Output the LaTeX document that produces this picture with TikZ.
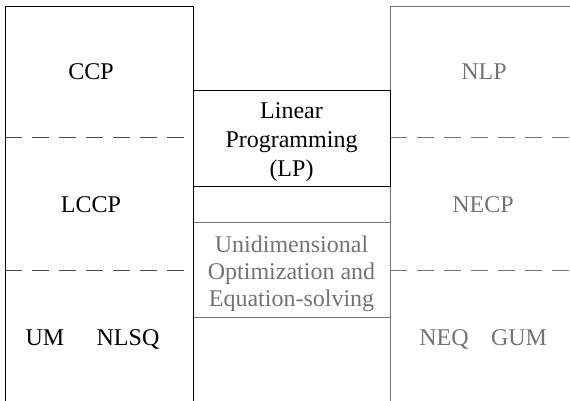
\documentclass[tikz,border=0pt]{standalone}
\usepackage{fontspec}
\setmainfont{Liberation Serif}
\usepackage{xcolor}
\usetikzlibrary{positioning}
\definecolor{nlgray}{RGB}{115,115,115}
\tikzset{
    lbl/.style = {font=\fontsize{24}{28.5}\selectfont, inner sep=0pt, anchor=base},
    lin/.style = {lbl, black},
    nonlin/.style = {lbl, nlgray},
    sep/.style = {dash pattern=on 17pt off 10pt},
    midbox/.style = {rectangle, draw, minimum width=197pt, minimum height=95pt, inner sep=0pt},
    midtext/.style = {align=center, inner sep=0pt}
}

\begin{document}
\begin{tikzpicture}[x=1pt, y=-1pt, line width=1pt]
    \useasboundingbox (0,0) rectangle (570,401);

    % nonlinear column
    \coordinate (nl_bl) at (390,401);
    \coordinate (nl_tl) at (390,7);
    \coordinate (nl_tr) at (570,7);
    \draw [nlgray] (nl_bl) -- (nl_tl) -- (nl_tr);
    \draw [nlgray, sep] (390,138) -- (570,138);
    \draw [nlgray, sep] (390,270) -- (570,270);

    % middle column
    \node [midbox, draw=black] (lp) at (291.5,138.5) {};
    \node [midtext, font=\fontsize{24}{29}\selectfont] (lp_txt) at ([yshift=-4pt]lp.center)
        {Linear\\Programming\\(LP)};
    \node [midbox, draw=nlgray] (uni) at (291.5,269.5) {};
    \node [midtext, text=nlgray, font=\fontsize{24}{26.8}\selectfont] (uni_txt) at ([yshift=-4pt]uni.center)
        {Unidimensional\\Optimization and\\Equation-solving};

    % linear column
    \coordinate (l_bl) at (5,401);
    \coordinate (l_tl) at (5,7);
    \coordinate (l_tr) at (193,7);
    \coordinate (l_br) at (193,401);
    \draw (l_bl) -- (l_tl) -- (l_tr) -- (l_br);
    \draw [black!70, sep] (5,138) -- (185,138);
    \draw [black!70, sep] (5,270) -- (185,270);

    \node [lin] (ccp) at (91,80) {CCP};
    \node [lin] (lccp) at (91,212) {LCCP};
    \node [lin] (um) at (45,345) {UM};
    \node [lin] (nlsq) at (128,345) {NLSQ};

    \node [nonlin] (nlp) at (484,80) {NLP};
    \node [nonlin] (necp) at (483,212) {NECP};
    \node [nonlin] (neq) at (444,345) {NEQ};
    \node [nonlin] (gum) at (519,345) {GUM};
\end{tikzpicture}
\end{document}
